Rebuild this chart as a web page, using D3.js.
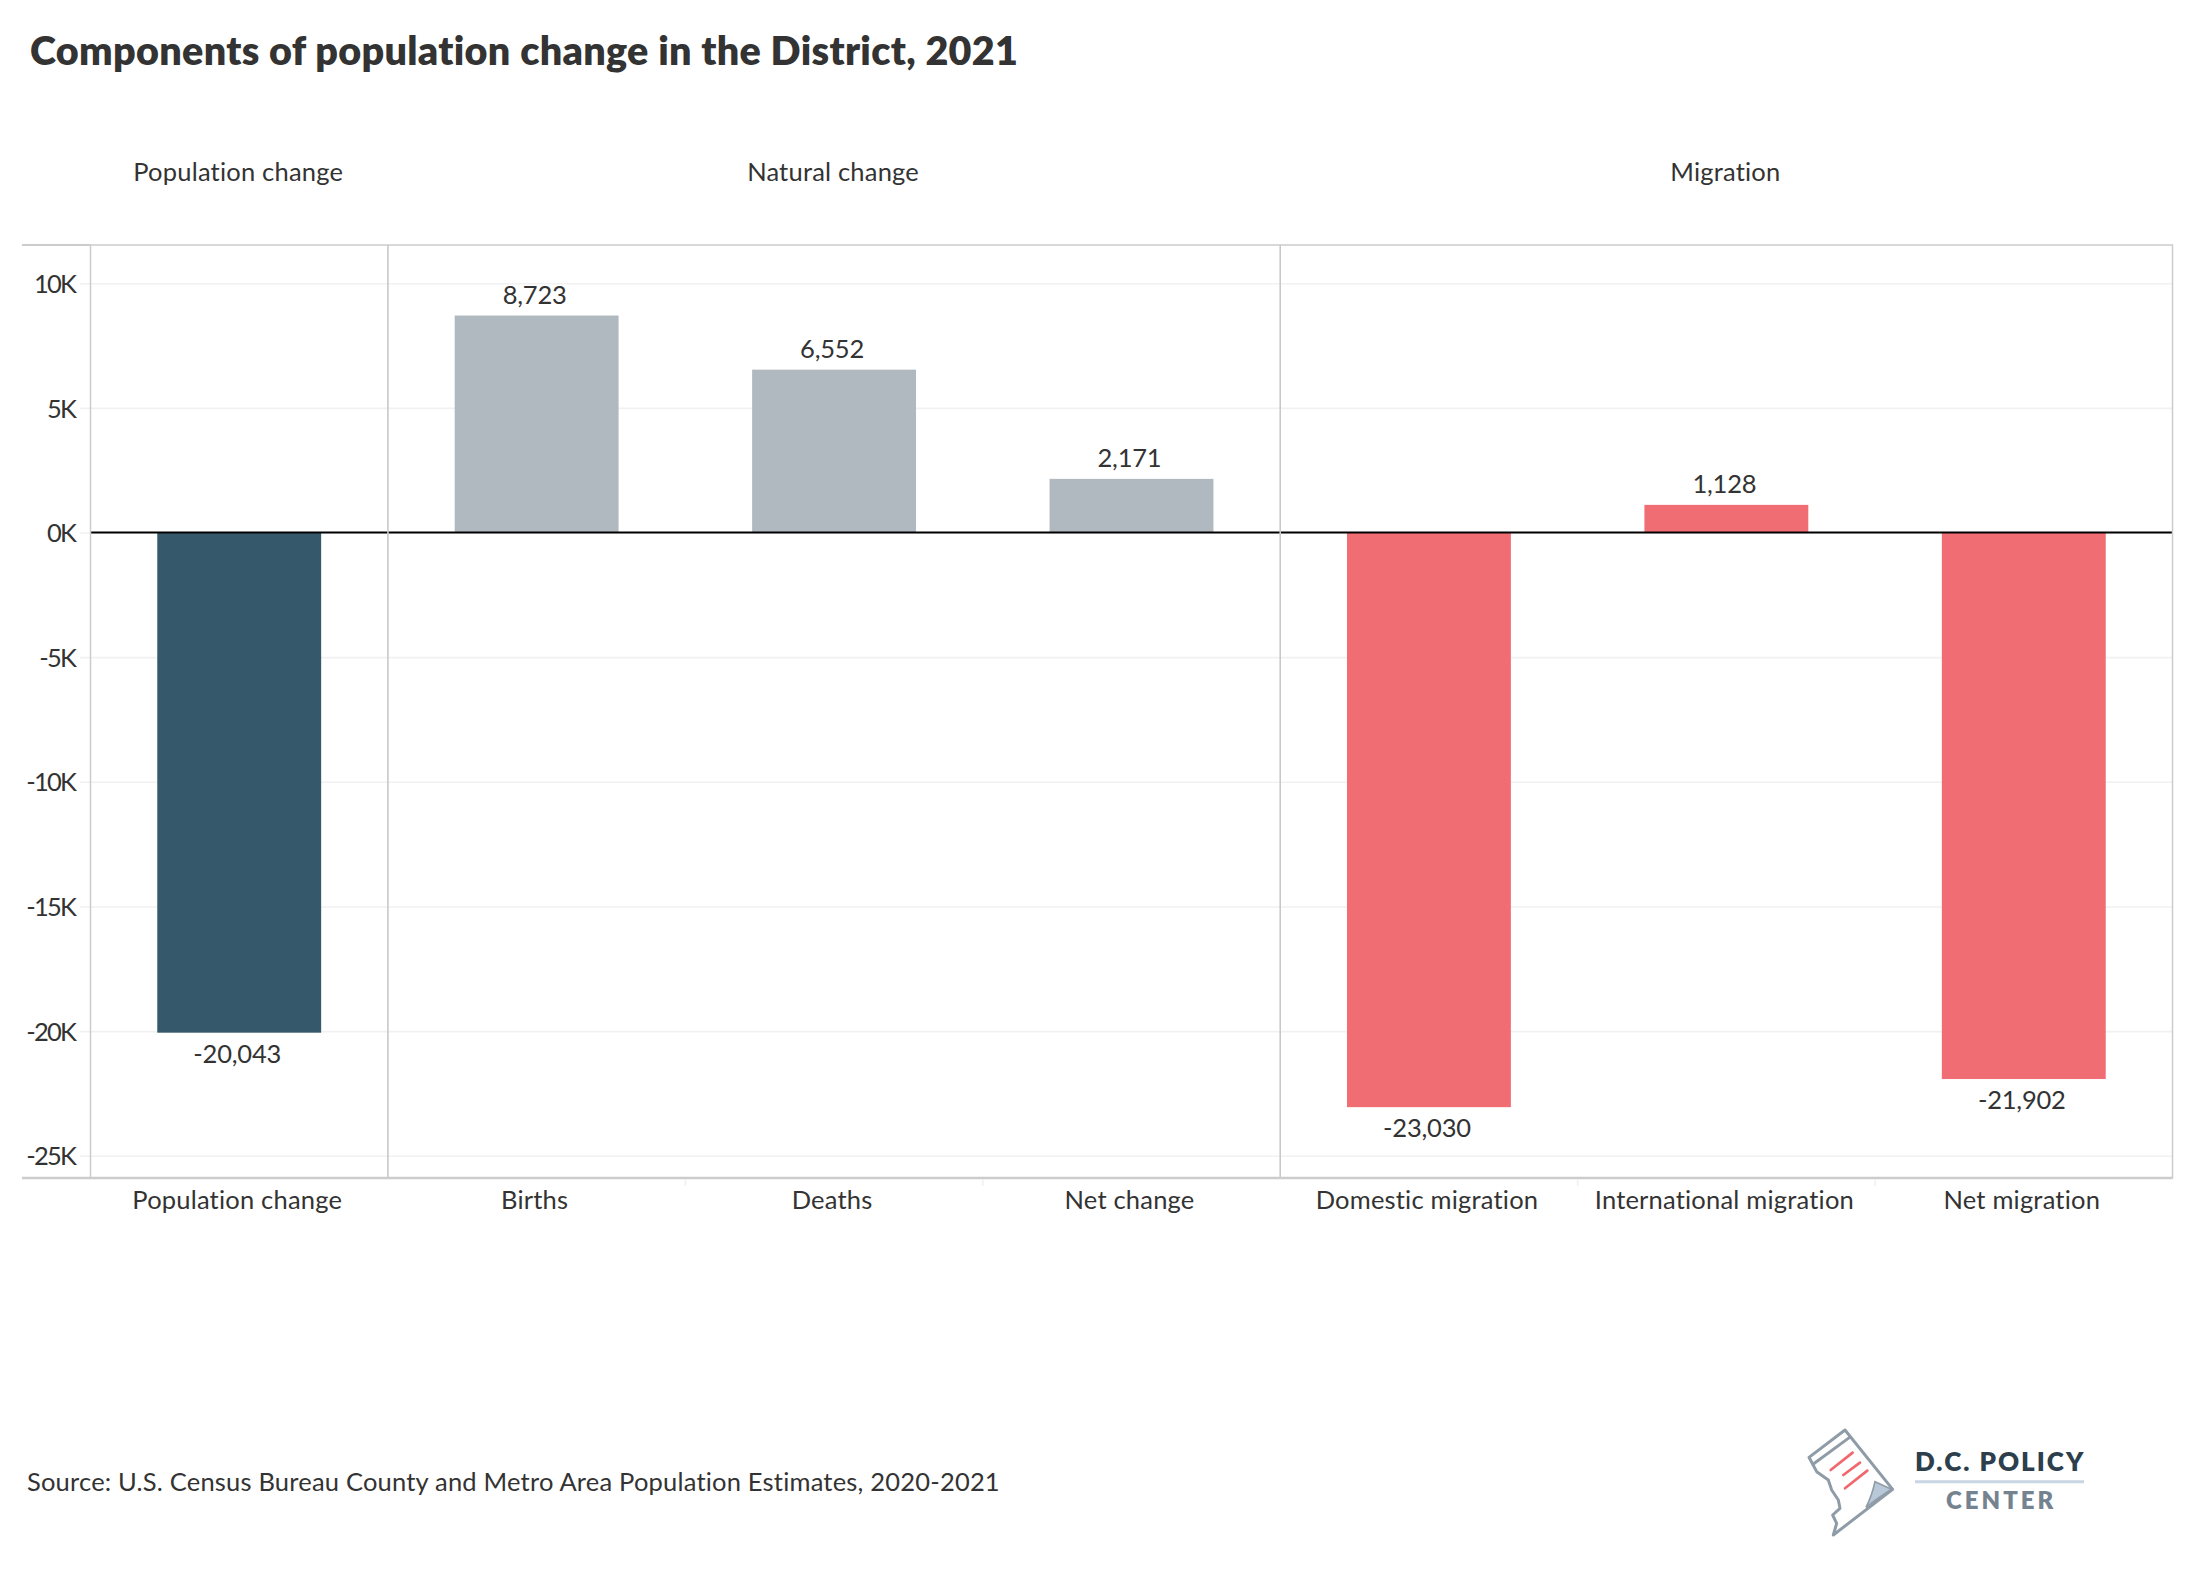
<!DOCTYPE html>
<html>
<head>
<meta charset="utf-8">
<script src="https://cdn.jsdelivr.net/npm/d3@7"></script>
<style>
  html, body { margin: 0; padding: 0; background: #fff; }
  text { font-family: Lato, "Open Sans", sans-serif; fill: #333; }
</style>
</head>
<body>
<svg></svg>
<script>
const categories = ['Population change', 'Births', 'Deaths', 'Net change', 'Domestic migration', 'International migration', 'Net migration'];
const values = [-20043, 8723, 6552, 2171, -23030, 1128, -21902];
const groups = ['pop', 'nat', 'nat', 'nat', 'mig', 'mig', 'mig'];
const panelNames = ['Population change', 'Natural change', 'Migration'];
const panelFirst = [0, 1, 4];
const panelLast = [0, 3, 6];
const yTicks = [10000, 5000, 0, -5000, -10000, -15000, -20000, -25000];
const groupColors = { pop: '#35596a', nat: '#b0b9c0', mig: '#f06d73' };

const width = 2200;
const height = 1592;
const plotLeft = 90.5, plotRight = 2172.5, plotTop = 245, plotBottom = 1178;

const labelSize = '25.5px';
const labelSpacing = '0.2px';

const svg = d3.select('svg').attr('width', width).attr('height', height);
svg.style('display', 'block');

const xScale = d3.scaleBand().domain(categories).range([plotLeft, plotRight]);
const yScale = d3.scaleLinear().domain([11552, -25872]).range([plotTop, plotBottom]);
const barWidth = xScale.bandwidth() * 0.551;

svg.append('text')
  .attr('x', 30).attr('y', 65)
  .style('font-size', '39.5px').style('font-weight', 800)
  .style('letter-spacing', '0.31px')
  .text('Components of population change in the District, 2021');

// grid lines
svg.append('g').selectAll('line').data(yTicks).enter().append('line')
  .attr('x1', 80).attr('x2', plotRight)
  .attr('y1', d => yScale(d)).attr('y2', d => yScale(d))
  .attr('stroke', '#f1f1f1').attr('stroke-width', 1.6);

// y axis
const yAxis = d3.axisLeft(yScale).tickValues(yTicks).tickSize(0).tickPadding(0)
  .tickFormat(d => (d / 1000) + 'K');
svg.append('g')
  .attr('transform', 'translate(75,0)')
  .call(yAxis)
  .call(g => g.select('.domain').remove())
  .call(g => g.selectAll('text')
    .style('font-size', labelSize).style('letter-spacing', '-1.8px').attr('dy', '0.34em'));

// bars
svg.append('g').selectAll('rect').data(values).enter().append('rect')
  .attr('x', (d, i) => xScale(categories[i]) + (xScale.bandwidth() - barWidth) / 2)
  .attr('width', barWidth)
  .attr('y', d => yScale(Math.max(d, 0)))
  .attr('height', d => Math.abs(yScale(d) - yScale(0)))
  .attr('fill', (d, i) => groupColors[groups[i]]);

// value labels
svg.append('g').selectAll('text').data(values).enter().append('text')
  .attr('x', (d, i) => xScale(categories[i]) + xScale.bandwidth() / 2 - 2)
  .attr('y', d => d >= 0 ? yScale(d) - 11.5 : yScale(d) + 30)
  .attr('text-anchor', 'middle')
  .style('font-size', labelSize).style('letter-spacing', '-0.2px')
  .text(d => d3.format(',')(d).replace('−', '-'));

// zero line
svg.append('line')
  .attr('x1', plotLeft).attr('x2', plotRight)
  .attr('y1', yScale(0) - 0.5).attr('y2', yScale(0) - 0.5)
  .attr('stroke', '#000').attr('stroke-width', 2);

// panel frame
svg.append('rect')
  .attr('x', plotLeft).attr('y', plotTop)
  .attr('width', plotRight - plotLeft).attr('height', plotBottom - plotTop)
  .attr('fill', 'none').attr('stroke', '#ccc').attr('stroke-width', 1.5);
svg.append('g').selectAll('line').data(panelFirst.slice(1)).enter().append('line')
  .attr('x1', d => xScale(categories[d])).attr('x2', d => xScale(categories[d]))
  .attr('y1', plotTop).attr('y2', plotBottom)
  .attr('stroke', '#c8c8c8').attr('stroke-width', 1.6);
svg.append('line').attr('x1', 22).attr('x2', plotLeft).attr('y1', plotTop).attr('y2', plotTop)
  .attr('stroke', '#ccc').attr('stroke-width', 2);
svg.append('line').attr('x1', 22).attr('x2', plotRight).attr('y1', plotBottom).attr('y2', plotBottom)
  .attr('stroke', '#ccc').attr('stroke-width', 2.4);

// faint ticks between categories inside a panel
svg.append('g').selectAll('line').data([2, 3, 5, 6]).enter().append('line')
  .attr('x1', d => xScale(categories[d])).attr('x2', d => xScale(categories[d]))
  .attr('y1', plotBottom + 1).attr('y2', plotBottom + 8)
  .attr('stroke', '#f0f0f0').attr('stroke-width', 1.5);

// x axis
const xAxis = d3.axisBottom(xScale).tickSize(0).tickPadding(0);
svg.append('g')
  .attr('transform', 'translate(-2,' + (plotBottom + 30.5) + ')')
  .call(xAxis)
  .call(g => g.select('.domain').remove())
  .call(g => g.selectAll('text')
    .style('font-size', labelSize).style('letter-spacing', labelSpacing).attr('dy', 0));

// panel headers
svg.append('g').selectAll('text').data(panelNames).enter().append('text')
  .attr('x', (d, i) => (xScale(categories[panelFirst[i]]) + xScale(categories[panelLast[i]]) + xScale.bandwidth()) / 2 - 1)
  .attr('y', 180.5)
  .attr('text-anchor', 'middle')
  .style('font-size', labelSize).style('letter-spacing', labelSpacing)
  .text(d => d);

svg.append('text')
  .attr('x', 27).attr('y', 1491)
  .style('font-size', labelSize).style('letter-spacing', labelSpacing)
  .text('Source: U.S. Census Bureau County and Metro Area Population Estimates, 2020-2021');

// logo
const logo = svg.append('g').attr('transform', 'translate(1760,1400) scale(0.3333)');
logo.append('path')
  .attr('d', 'M255,90 L147,172 L170,215 L205,240 L215,270 L235,300 L240,325 L218,345 L230,370 L220,405 L398,268 Z')
  .attr('fill', '#fff').attr('stroke', '#8f9ca7').attr('stroke-width', 9).attr('stroke-linejoin', 'round');
logo.append('line').attr('x1', 160).attr('y1', 192).attr('x2', 272).attr('y2', 110)
  .attr('stroke', '#8f9ca7').attr('stroke-width', 9);
logo.append('path').attr('d', 'M345,245 Q335,290 318,322 Q360,290 395,268 Z')
  .attr('fill', '#b8c8d8').attr('stroke', '#8f9ca7').attr('stroke-width', 5);
logo.selectAll('.red').data([[212, 210, 278, 158], [250, 225, 300, 188], [255, 265, 322, 212]]).enter().append('line')
  .attr('x1', d => d[0]).attr('y1', d => d[1]).attr('x2', d => d[2]).attr('y2', d => d[3])
  .attr('stroke', '#f0686d').attr('stroke-width', 8).attr('stroke-linecap', 'round');
logo.append('text').attr('x', 465).attr('y', 212)
  .attr('textLength', 505).attr('lengthAdjust', 'spacing')
  .style('font-size', '78px').style('font-weight', 800).style('fill', '#2d3f4c').text('D.C. POLICY');
logo.append('line').attr('x1', 465).attr('x2', 972).attr('y1', 245).attr('y2', 245)
  .attr('stroke', '#c8d5e2').attr('stroke-width', 9);
logo.append('text').attr('x', 558).attr('y', 328)
  .attr('textLength', 322).attr('lengthAdjust', 'spacing')
  .style('font-size', '72px').style('font-weight', 800).style('fill', '#74838f').text('CENTER');
</script>
</body>
</html>
